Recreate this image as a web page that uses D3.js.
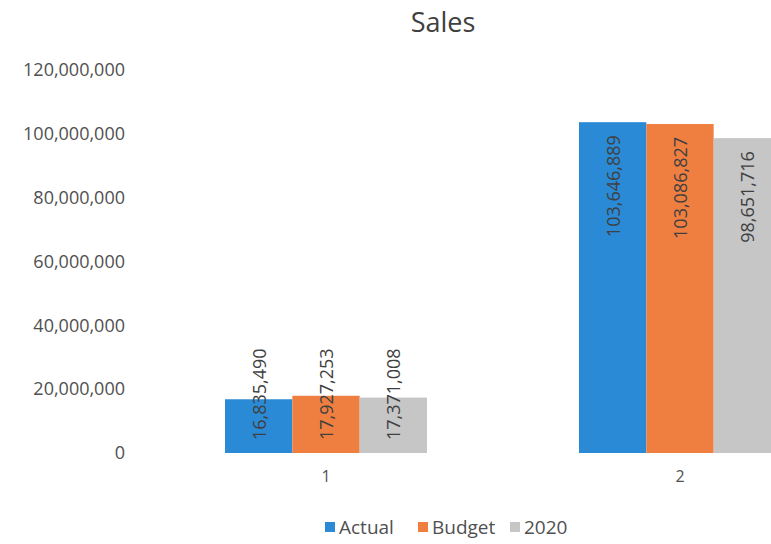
<!DOCTYPE html>
<html>
<head>
<meta charset="utf-8">
<script src="https://cdn.jsdelivr.net/npm/d3@7"></script>
<style>
  html, body { margin: 0; padding: 0; background: #fff; }
  svg { display: block; overflow: hidden; font-family: "Open Sans", sans-serif; }
</style>
</head>
<body>
<div id="chart"></div>
<script>
// Datos del gráfico
const categories = ["1", "2"];
const seriesNames = ["Actual", "Budget", "2020"];
const actualValues = [16835490, 103646889];
const budgetValues = [17927253, 103086827];
const values2020 = [17371008, 98651716];
const yTicks = [0, 20000000, 40000000, 60000000, 80000000, 100000000, 120000000];

const seriesColors = { "Actual": "#2a8ad6", "Budget": "#ef7f40", "2020": "#c6c6c6" };
const seriesValues = { "Actual": actualValues, "Budget": budgetValues, "2020": values2020 };

const width = 771, height = 544;
const svg = d3.select("#chart").append("svg")
    .attr("width", width)
    .attr("height", height);

// Escalas
const y = d3.scaleLinear().domain([0, 120000000]).range([453, 70]);
const x = d3.scaleBand().domain(categories).range([149, 857]);
const groupWidth = 202;
const xInner = d3.scaleBand().domain(seriesNames).range([0, groupWidth]);

const fmt = d3.format(",");

// Título
svg.append("text")
    .attr("x", 443)
    .attr("y", 32)
    .attr("text-anchor", "middle")
    .attr("font-size", 27)
    .attr("fill", "#404040")
    .text("Sales");

// Eje Y (solo etiquetas)
const yAxis = d3.axisLeft(y).tickValues(yTicks).tickFormat(fmt).tickSize(0).tickPadding(0);
const gy = svg.append("g").attr("transform", "translate(125,0)").call(yAxis);
gy.select(".domain").remove();
gy.selectAll("text")
    .attr("font-family", "Open Sans, sans-serif")
    .attr("font-size", 18)
    .attr("fill", "#505050");

// Eje X (solo etiquetas)
const xAxis = d3.axisBottom(x).tickSize(0).tickPadding(0);
const gx = svg.append("g").attr("transform", "translate(0,471)").call(xAxis);
gx.select(".domain").remove();
gx.selectAll("text")
    .attr("font-family", "Open Sans, sans-serif")
    .attr("font-size", 16)
    .attr("fill", "#505050");

// Barras
const groups = svg.selectAll(".grp")
    .data(categories)
    .enter().append("g")
    .attr("transform", d => `translate(${x(d) + (x.bandwidth() - groupWidth) / 2},0)`);

const bars = groups.selectAll("g.bar")
    .data((c, i) => seriesNames.map(s => ({ series: s, value: seriesValues[s][i] })))
    .enter().append("g")
    .attr("class", "bar");

bars.append("rect")
    .attr("x", d => xInner(d.series))
    .attr("y", d => y(d.value))
    .attr("width", xInner.bandwidth())
    .attr("height", d => y(0) - y(d.value))
    .attr("fill", d => seriesColors[d.series]);

// Etiquetas de datos rotadas
bars.append("text")
    .attr("font-size", 18)
    .attr("fill", "#404040")
    .attr("text-anchor", "end")
    .attr("dominant-baseline", "central")
    .text(d => fmt(d.value))
    .each(function (d) {
        const len = this.getComputedTextLength();
        let top = y(d.value) + 13;
        if (top + len > y(0) - 13) top = y(0) - 13 - len;
        const cx = xInner(d.series) + xInner.bandwidth() / 2;
        d3.select(this).attr("transform", `translate(${cx},${top}) rotate(-90)`);
    });

// Leyenda
const legendX = [325, 418, 510];
const legend = svg.selectAll(".legend")
    .data(seriesNames)
    .enter().append("g")
    .attr("transform", (d, i) => `translate(${legendX[i]},527)`);

legend.append("rect")
    .attr("x", 0)
    .attr("y", -5)
    .attr("width", 10)
    .attr("height", 10)
    .attr("fill", d => seriesColors[d]);

legend.append("text")
    .attr("x", 14)
    .attr("y", 0)
    .attr("dominant-baseline", "central")
    .attr("font-size", 19)
    .attr("fill", "#505050")
    .text(d => d);
</script>
</body>
</html>
